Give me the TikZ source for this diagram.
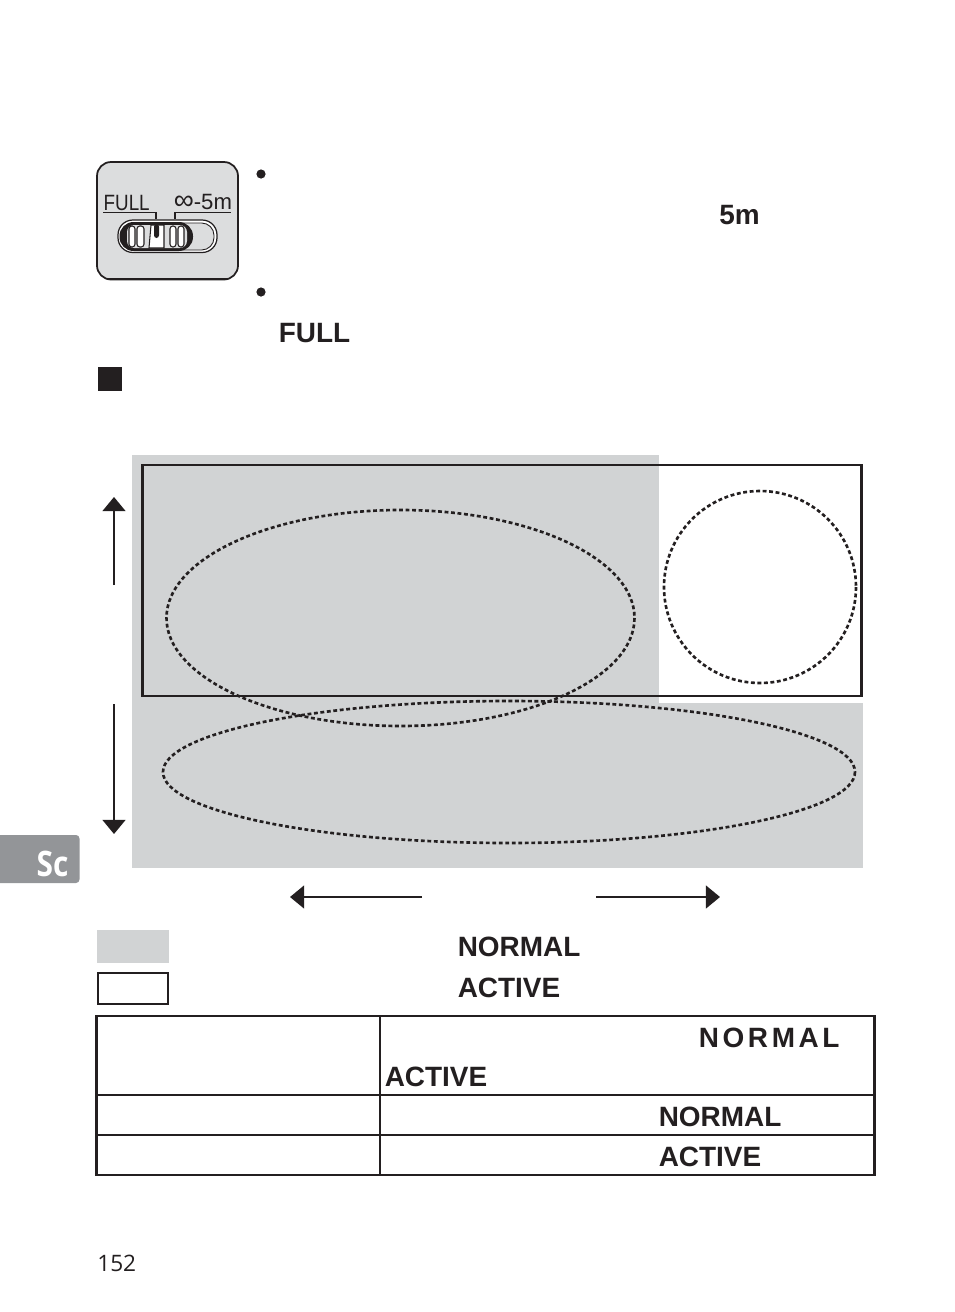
\documentclass[tikz,border=0pt]{standalone}
\usepackage{fontspec}
\setmainfont{Liberation Sans}
\newfontfamily\folio{Open Sans}
\usetikzlibrary{arrows.meta}
\definecolor{rink}{HTML}{231F20}
\definecolor{rzone}{HTML}{D1D3D4}
\definecolor{rtab}{HTML}{939598}
\definecolor{rplate}{HTML}{DCDDDE}

\begin{document}
\begin{tikzpicture}[x=0.02cm, y=-0.02cm, >={Triangle[length=8pt,width=13pt]}, line width=0.9pt,
    wordbold/.style={inner sep=0pt, anchor=base west, text=rink, font=\fontsize{15.9}{18}\selectfont\bfseries},
    wordthin/.style={inner sep=0pt, anchor=base west, text=rink, xscale=0.85, transform shape, font=\fontsize{12.6}{15}\selectfont},
    rangeline/.style={draw=rink, dash pattern=on 2.2pt off 1.5pt, line width=1.5pt},
    slot/.style={fill=white, draw=rink, line width=0.6pt, rounded corners=1.6pt}]
  \useasboundingbox (0,0) rectangle (954,1312);

  % ends of the four arrows
  \coordinate (UpA) at (114,585);
  \coordinate (UpB) at (114,497);
  \coordinate (DnA) at (114,704);
  \coordinate (DnB) at (114,834);
  \coordinate (LfA) at (422,897);
  \coordinate (LfB) at (290,897);
  \coordinate (RtA) at (596,897);
  \coordinate (RtB) at (720,897);

  % switch plate
  \draw[rink, fill=rplate, line width=1pt, rounded corners=8pt] (97,162) rectangle (238,279.5);
  \draw[rink, line width=0.7pt] (106,278.5) -- (229,278.5);
  \node[wordthin] (fullmark) at (103,210) {FULL};
  \node[inner sep=0pt, anchor=base west, text=rink, font=\fontsize{12.6}{15}\selectfont] (rangemark) at (173,209) {{\fontsize{16}{15}\selectfont ∞}-5m};
  \draw[rink, line width=0.9pt] (103,212.5) -- (156,212.5) -- (156,219);
  \draw[rink, line width=0.9pt] (231,212.5) -- (175,212.5) -- (175,219);

  % slider
  \draw[rink, fill=white, line width=0.7pt, rounded corners=8.5pt] (118,220) rectangle (217,252.5);
  \draw[rink, fill=rplate, line width=0.5pt, rounded corners=7pt] (122,223) rectangle (214,250);
  \fill[rink, rounded corners=8pt] (119.5,222) rectangle (193,251);
  \fill[rplate, rounded corners=4pt] (127,225) rectangle (187,248);
  \draw[slot] (129,226) rectangle (135,247);
  \draw[slot] (137,226) rectangle (144,247);
  \draw[slot] (170,226) rectangle (176,247);
  \draw[slot] (178,226) rectangle (184,247);
  \draw[rink, fill=white, line width=0.6pt] (151,225) -- (164,225) -- (164,248) -- (149,248) -- cycle;
  \fill[rink, rounded corners=1.5pt] (154,224) rectangle (159,238);

  % bullets and bold words of the upper text
  \fill[rink] (261,174) circle [radius=4.6];
  \fill[rink] (261,292) circle [radius=4.6];
  \node[wordbold] (metres) at (718.5,224) {5m};
  \node[wordbold] (fullword) at (278,342) {FULL};
  \fill[rink] (98,367) rectangle (122,391);

  % zones
  \fill[rzone] (132,455) rectangle (659,703);
  \fill[rzone] (132,703) rectangle (863,868);
  \draw[rink, line width=1.15pt] (142.5,465) rectangle (861.5,696);

  % dotted ranges
  \draw[rangeline] (400.5,618) ellipse [x radius=234, y radius=108];
  \draw[rangeline] (760,587) circle [radius=96];
  \draw[rangeline] (509,772) ellipse [x radius=346, y radius=71];

  % arrows
  \draw[rink, ->] (UpA) -- (UpB);
  \draw[rink, ->] (DnA) -- (DnB);
  \draw[rink, ->] (LfA) -- (LfB);
  \draw[rink, ->] (RtA) -- (RtB);

  % side tab
  \fill[rtab, rounded corners=2pt] (-10,835) rectangle (79.5,883);
  \node[inner sep=0pt, anchor=base west, text=white, xscale=0.85, transform shape, font=\fontsize{20}{22}\selectfont\folio\bfseries] (tabname) at (36,876) {Sc};

  % legend
  \fill[rzone] (97,930) rectangle (169,963);
  \draw[rink, line width=1.15pt] (98,973) rectangle (168,1004);
  \node[wordbold] (legendN) at (457,956) {NORMAL};
  \node[wordbold] (legendA) at (457,997) {ACTIVE};

  % table
  \draw[rink, line width=1.15pt] (96.5,1016) rectangle (874.5,1175);
  \draw[rink, line width=1.15pt] (96.5,1095) -- (874.5,1095);
  \draw[rink, line width=1.15pt] (96.5,1135) -- (874.5,1135);
  \draw[rink, line width=1.15pt] (380,1016) -- (380,1175);
  \node[wordbold] (rowAn) at (698,1047) {\addfontfeature{LetterSpace=13}NORMAL};
  \node[wordbold] (rowAa) at (384,1086) {ACTIVE};
  \node[wordbold] (rowB) at (658,1126) {NORMAL};
  \node[wordbold] (rowC) at (658,1166) {ACTIVE};

  % page number
  \node[inner sep=0pt, anchor=base west, text=rink, font=\fontsize{12.9}{15}\selectfont\folio] (page) at (96.5,1271) {152};
\end{tikzpicture}
\end{document}
